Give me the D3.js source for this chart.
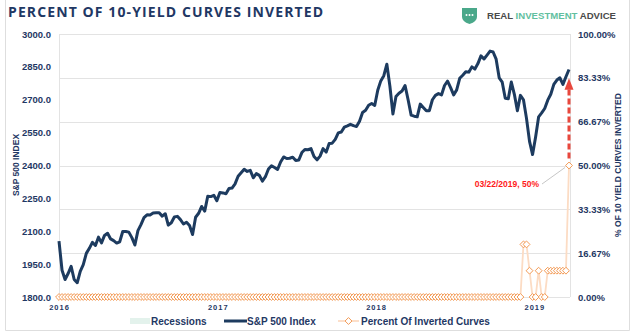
<!DOCTYPE html>
<html>
<head>
<meta charset="utf-8">
<script src="https://cdn.jsdelivr.net/npm/d3@7"></script>
<style>
  body { margin: 0; background: #fff; }
  svg text { font-family: "Liberation Sans", Arial, sans-serif; }
</style>
</head>
<body>
<svg id="chart" width="640" height="334"></svg>
<script>
// weekly closes, fridays from 2016-01-01 to 2019-03-22
var start_date = '2016-01-01';
var end_date = '2019-03-22';
var year_ticks = ['2016-01-01', '2017-01-01', '2018-01-01', '2019-01-01'];
var spx_ticks = [1800, 1950, 2100, 2250, 2400, 2550, 2700, 2850, 3000];
var pct_ticks = [0, 16.67, 33.33, 50, 66.67, 83.33, 100];

var spx_values = [
  2055, 1922, 1880, 1907, 1940, 1880, 1865, 1917, 1948, 1999, 2022, 2049, 2035,
  2073, 2047, 2081, 2091, 2065, 2057, 2046, 2052, 2099, 2099, 2096, 2071, 2037,
  2103, 2130, 2162, 2175, 2174, 2183, 2184, 2184, 2169, 2180, 2128, 2139, 2165,
  2168, 2153, 2133, 2141, 2126, 2085, 2164, 2182, 2213, 2192, 2260, 2258, 2264,
  2239, 2277, 2275, 2271, 2295, 2297, 2316, 2351, 2367, 2383, 2373, 2378, 2344,
  2363, 2355, 2329, 2349, 2384, 2399, 2391, 2382, 2416, 2439, 2432, 2433, 2438,
  2423, 2425, 2459, 2473, 2472, 2477, 2441, 2426, 2443, 2477, 2461, 2500, 2502,
  2519, 2549, 2553, 2575, 2581, 2588, 2582, 2578, 2602, 2642, 2652, 2675, 2683,
  2674, 2743, 2786, 2810, 2862, 2762, 2635, 2715, 2730, 2740, 2765, 2700, 2630,
  2625, 2622, 2680, 2665, 2650, 2650, 2700, 2720, 2728, 2722, 2765, 2785, 2755,
  2722, 2745, 2798, 2812, 2828, 2826, 2850, 2840, 2865, 2900, 2886, 2904, 2922,
  2918, 2885, 2800, 2780, 2707, 2705, 2781, 2725, 2650, 2720, 2700, 2615, 2510,
  2450, 2530, 2622, 2640, 2660, 2698, 2725, 2770, 2790, 2800, 2770, 2805, 2838
];

var inverted_values = [
  0, 0, 0, 0, 0, 0, 0, 0, 0, 0, 0, 0, 0, 0, 0, 0, 0, 0, 0, 0,
  0, 0, 0, 0, 0, 0, 0, 0, 0, 0, 0, 0, 0, 0, 0, 0, 0, 0, 0, 0,
  0, 0, 0, 0, 0, 0, 0, 0, 0, 0, 0, 0, 0, 0, 0, 0, 0, 0, 0, 0,
  0, 0, 0, 0, 0, 0, 0, 0, 0, 0, 0, 0, 0, 0, 0, 0, 0, 0, 0, 0,
  0, 0, 0, 0, 0, 0, 0, 0, 0, 0, 0, 0, 0, 0, 0, 0, 0, 0, 0, 0,
  0, 0, 0, 0, 0, 0, 0, 0, 0, 0, 0, 0, 0, 0, 0, 0, 0, 0, 0, 0,
  0, 0, 0, 0, 0, 0, 0, 0, 0, 0, 0, 0, 0, 0, 0, 0, 0, 0, 0, 0,
  0, 0, 0, 0, 0, 0, 0, 0, 0, 0, 0, 0, 0,
  20, 20, 10, 0, 0, 10, 0, 0, 10, 10, 10, 10, 10, 10, 10, 50
];

var legend_labels = ['Recessions', 'S&P 500 Index', 'Percent Of Inverted Curves'];
var callout_text = '03/22/2019, 50%';

var navy = '#1f3864';
var line_navy = '#1d3b5f';
var orange = '#f39a55';
var pale_orange = '#fcdcc4';
var grid_color = '#e3e3e3';

var plot = {left: 59, right: 570, top: 34, bottom: 297};

var parse = d3.timeParse('%Y-%m-%d');
var first_day = parse(start_date);
var dates = spx_values.map(function(d, i) { return d3.timeDay.offset(first_day, 7 * i); });

var x_scale = d3.scaleTime()
  .domain([first_day, parse(end_date)])
  .range([plot.left, plot.right - 1]);

var y_left = d3.scaleLinear()
  .domain([1800, 3000])
  .range([plot.bottom, plot.top]);

var y_right = d3.scaleLinear()
  .domain([0, 100])
  .range([plot.bottom, plot.top]);

var svg = d3.select('#chart');

// chart frame
svg.append('path')
  .attr('d', 'M5.5,0 V330.5 H629.5 V0')
  .attr('fill', 'none')
  .attr('stroke', '#dedede')
  .attr('stroke-width', 1);

// title
svg.append('text')
  .attr('x', 8)
  .attr('y', 17)
  .attr('textLength', 315)
  .attr('lengthAdjust', 'spacing')
  .style('font-family', '"Open Sans", "Liberation Sans", sans-serif')
  .style('font-weight', 700)
  .style('font-size', '14px')
  .attr('fill', navy)
  .text('PERCENT OF 10-YIELD CURVES INVERTED');

// logo
var logo = svg.append('g').attr('class', 'logo');
logo.append('path')
  .attr('d', 'M462,8 H477 V17 Q477,21.5 469.5,24 Q462,21.5 462,17 Z')
  .attr('fill', '#4aa88a');
logo.selectAll('circle')
  .data([466.5, 469.5, 472.5])
  .enter()
  .append('circle')
  .attr('cx', function(d) { return d; })
  .attr('cy', 15)
  .attr('r', 1)
  .attr('fill', '#fff');
var logo_text = logo.append('text')
  .attr('x', 487)
  .attr('y', 18.5)
  .attr('textLength', 129)
  .attr('lengthAdjust', 'spacingAndGlyphs')
  .style('font-size', '9px')
  .style('font-weight', 700);
logo_text.append('tspan').attr('fill', '#4a4a4a').text('REAL ');
logo_text.append('tspan').attr('fill', '#62bf9f').text('INVESTMENT');
logo_text.append('tspan').attr('fill', '#4a4a4a').text(' ADVICE');

// gridlines from the right axis
svg.append('g')
  .attr('class', 'grid')
  .selectAll('line')
  .data(pct_ticks)
  .enter()
  .append('line')
  .attr('x1', plot.left)
  .attr('x2', plot.right)
  .attr('y1', function(d) { return Math.round(y_right(d)) + 0.5; })
  .attr('y2', function(d) { return Math.round(y_right(d)) + 0.5; })
  .attr('stroke', grid_color)
  .attr('stroke-width', 1.2);

svg.append('g')
  .selectAll('line')
  .data([plot.left, plot.right])
  .enter()
  .append('line')
  .attr('x1', function(d) { return d + 0.5; })
  .attr('x2', function(d) { return d + 0.5; })
  .attr('y1', plot.top)
  .attr('y2', plot.bottom)
  .attr('stroke', grid_color)
  .attr('stroke-width', 1);

// axes
var left_axis = svg.append('g')
  .attr('transform', 'translate(' + plot.left + ',0)')
  .call(d3.axisLeft(y_left).tickValues(spx_ticks).tickFormat(d3.format('.1f')).tickSize(0).tickPadding(8));

var right_axis = svg.append('g')
  .attr('transform', 'translate(' + plot.right + ',0)')
  .call(d3.axisRight(y_right).tickValues(pct_ticks)
    .tickFormat(function(d) { return d3.format('.2f')(d) + '%'; })
    .tickSize(0).tickPadding(8));

var bottom_axis = svg.append('g')
  .attr('transform', 'translate(0,' + plot.bottom + ')')
  .call(d3.axisBottom(x_scale).tickValues(year_ticks.map(parse))
    .tickFormat(d3.timeFormat('%Y')).tickSize(0).tickPadding(8));

[left_axis, right_axis, bottom_axis].forEach(function(ax) {
  ax.select('.domain').remove();
  ax.selectAll('text')
    .attr('fill', navy)
    .style('font-family', '"Liberation Sans Narrow", "Liberation Sans", sans-serif')
    .style('font-weight', 700)
    .style('font-size', '9.5px');
});

bottom_axis.selectAll('text')
  .style('font-family', '"Liberation Sans", sans-serif')
  .style('font-size', '7.5px')
  .style('letter-spacing', '1px');

// axis titles
svg.append('text')
  .attr('transform', 'translate(19,165) rotate(-90)')
  .attr('text-anchor', 'middle')
  .attr('fill', navy)
  .style('font-family', '"Liberation Sans Narrow", "Liberation Sans", sans-serif')
  .style('font-weight', 700)
  .style('font-size', '8.5px')
  .text('S&P 500 INDEX');

svg.append('text')
  .attr('transform', 'translate(621,165) rotate(-90)')
  .attr('text-anchor', 'middle')
  .attr('fill', navy)
  .style('font-family', '"Liberation Sans Narrow", "Liberation Sans", sans-serif')
  .style('font-weight', 700)
  .style('font-size', '8.5px')
  .text('% OF 10 YIELD CURVES INVERTED');

// percent of inverted curves
var inverted_line = d3.line()
  .x(function(d, i) { return x_scale(dates[i]); })
  .y(function(d) { return y_right(d); });

svg.append('path')
  .datum(inverted_values)
  .attr('d', inverted_line)
  .attr('fill', 'none')
  .attr('stroke', pale_orange)
  .attr('stroke-width', 1.8);

svg.append('g')
  .attr('class', 'diamonds')
  .selectAll('path')
  .data(inverted_values)
  .enter()
  .append('path')
  .attr('d', d3.symbol().type(d3.symbolDiamond2).size(30))
  .attr('transform', function(d, i) {
    return 'translate(' + x_scale(dates[i]) + ',' + y_right(d) + ')';
  })
  .attr('fill', '#fff')
  .attr('stroke', orange)
  .attr('stroke-width', 1);

// S&P 500 line
var spx_line = d3.line()
  .x(function(d, i) { return x_scale(dates[i]); })
  .y(function(d) { return y_left(d); });

svg.append('path')
  .datum(spx_values)
  .attr('d', spx_line)
  .attr('fill', 'none')
  .attr('stroke', line_navy)
  .attr('stroke-width', 3)
  .attr('stroke-linejoin', 'round');

// callout on the last inverted reading
var last_i = inverted_values.length - 1;
var last_x = x_scale(dates[last_i]);
var last_y = y_right(inverted_values[last_i]);

svg.append('line')
  .attr('x1', last_x)
  .attr('x2', last_x)
  .attr('y1', last_y - 7)
  .attr('y2', y_right(83.33) + 11)
  .attr('stroke', '#e8473d')
  .attr('stroke-width', 3)
  .attr('stroke-dasharray', '6,3');

svg.append('path')
  .attr('d', 'M' + (last_x - 4.5) + ',' + (y_right(83.33) + 12) +
    ' L' + last_x + ',' + (y_right(83.33) + 0.5) +
    ' L' + (last_x + 4.5) + ',' + (y_right(83.33) + 12) + ' Z')
  .attr('fill', '#e8473d');

svg.append('line')
  .attr('x1', last_x - 4)
  .attr('y1', last_y + 2)
  .attr('x2', last_x - 27)
  .attr('y2', last_y + 18.5)
  .attr('stroke', '#b8b8b8')
  .attr('stroke-width', 0.8);

svg.append('text')
  .attr('x', last_x - 30)
  .attr('y', last_y + 21.5)
  .attr('text-anchor', 'end')
  .attr('fill', '#ff1a1a')
  .style('font-family', '"Liberation Sans Narrow", "Liberation Sans", sans-serif')
  .style('font-weight', 700)
  .style('font-size', '8.5px')
  .text(callout_text);

// legend
var legend = svg.append('g').attr('class', 'legend');
var legend_y = 321;

legend.append('rect')
  .attr('x', 130)
  .attr('y', legend_y - 3)
  .attr('width', 20)
  .attr('height', 6)
  .attr('fill', '#e3f2ec');

legend.append('line')
  .attr('x1', 224)
  .attr('x2', 247)
  .attr('y1', legend_y)
  .attr('y2', legend_y)
  .attr('stroke', line_navy)
  .attr('stroke-width', 3);

legend.append('line')
  .attr('x1', 338)
  .attr('x2', 359)
  .attr('y1', legend_y)
  .attr('y2', legend_y)
  .attr('stroke', pale_orange)
  .attr('stroke-width', 1.8);

legend.append('path')
  .attr('d', d3.symbol().type(d3.symbolDiamond2).size(30))
  .attr('transform', 'translate(348.5,' + legend_y + ')')
  .attr('fill', '#fff')
  .attr('stroke', orange);

legend.selectAll('text')
  .data(legend_labels)
  .enter()
  .append('text')
  .attr('x', function(d, i) { return [151, 247, 361][i]; })
  .attr('y', legend_y + 3.5)
  .attr('fill', navy)
  .style('font-weight', 700)
  .style('font-size', '10px')
  .text(function(d) { return d; });
</script>
</body>
</html>
